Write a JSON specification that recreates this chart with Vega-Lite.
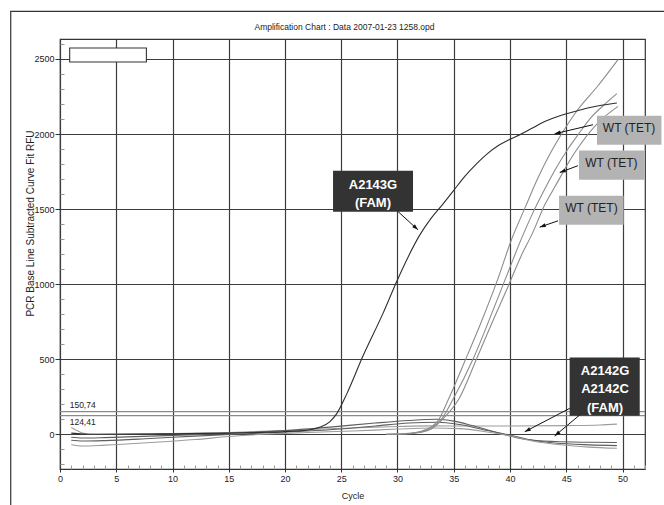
{
  "$schema": "https://vega.github.io/schema/vega-lite/v6.json",
  "width": 585,
  "height": 430,
  "autosize": {"type": "none"},
  "padding": {"left": 60, "top": 39, "right": 19, "bottom": 36},
  "background": "white",
  "config": {
    "font": "Liberation Sans",
    "view": {"stroke": "#333333", "strokeWidth": 1.2}
  },
  "title": {
    "text": "Amplification Chart : Data 2007-01-23 1258.opd",
    "font": "Liberation Sans",
    "fontSize": 8.5,
    "fontWeight": "normal",
    "color": "#222222",
    "anchor": "middle",
    "frame": "group",
    "baseline": "middle",
    "offset": 0,
    "dx": -8,
    "dy": 25
  },
  "datasets": {
    "curves": [
      {"series": "B1", "cycle": 1, "rfu": 45}, {"series": "B1", "cycle": 1.5, "rfu": 25}, {"series": "B1", "cycle": 2, "rfu": 8}, {"series": "B1", "cycle": 3, "rfu": 0}, {"series": "B1", "cycle": 5, "rfu": 2}, {"series": "B1", "cycle": 10, "rfu": 5}, {"series": "B1", "cycle": 15, "rfu": 12}, {"series": "B1", "cycle": 20, "rfu": 25}, {"series": "B1", "cycle": 25, "rfu": 40}, {"series": "B1", "cycle": 30, "rfu": 52}, {"series": "B1", "cycle": 33, "rfu": 56}, {"series": "B1", "cycle": 36, "rfu": 55}, {"series": "B1", "cycle": 40, "rfu": 55}, {"series": "B1", "cycle": 45, "rfu": 58}, {"series": "B1", "cycle": 48, "rfu": 62}, {"series": "B1", "cycle": 49.5, "rfu": 68},
      {"series": "B2", "cycle": 1, "rfu": -20}, {"series": "B2", "cycle": 2, "rfu": -25}, {"series": "B2", "cycle": 4, "rfu": -22}, {"series": "B2", "cycle": 8, "rfu": -12}, {"series": "B2", "cycle": 12, "rfu": -2}, {"series": "B2", "cycle": 16, "rfu": 10}, {"series": "B2", "cycle": 20, "rfu": 25}, {"series": "B2", "cycle": 24, "rfu": 48}, {"series": "B2", "cycle": 28, "rfu": 75}, {"series": "B2", "cycle": 31, "rfu": 92}, {"series": "B2", "cycle": 33.5, "rfu": 100}, {"series": "B2", "cycle": 35, "rfu": 88}, {"series": "B2", "cycle": 36.8, "rfu": 55}, {"series": "B2", "cycle": 39.2, "rfu": 5}, {"series": "B2", "cycle": 41.5, "rfu": -35}, {"series": "B2", "cycle": 44, "rfu": -48}, {"series": "B2", "cycle": 47, "rfu": -53}, {"series": "B2", "cycle": 49.5, "rfu": -55},
      {"series": "B3", "cycle": 1, "rfu": -40}, {"series": "B3", "cycle": 2, "rfu": -45}, {"series": "B3", "cycle": 4, "rfu": -42}, {"series": "B3", "cycle": 8, "rfu": -28}, {"series": "B3", "cycle": 12, "rfu": -12}, {"series": "B3", "cycle": 16, "rfu": 2}, {"series": "B3", "cycle": 20, "rfu": 15}, {"series": "B3", "cycle": 24, "rfu": 30}, {"series": "B3", "cycle": 28, "rfu": 55}, {"series": "B3", "cycle": 31, "rfu": 75}, {"series": "B3", "cycle": 33.5, "rfu": 80}, {"series": "B3", "cycle": 35.5, "rfu": 65}, {"series": "B3", "cycle": 38, "rfu": 25}, {"series": "B3", "cycle": 40, "rfu": -5}, {"series": "B3", "cycle": 42, "rfu": -40}, {"series": "B3", "cycle": 44, "rfu": -58}, {"series": "B3", "cycle": 47, "rfu": -70}, {"series": "B3", "cycle": 49.5, "rfu": -75},
      {"series": "B4", "cycle": 1, "rfu": -70}, {"series": "B4", "cycle": 2, "rfu": -78}, {"series": "B4", "cycle": 4, "rfu": -72}, {"series": "B4", "cycle": 8, "rfu": -55}, {"series": "B4", "cycle": 12, "rfu": -35}, {"series": "B4", "cycle": 15, "rfu": -15}, {"series": "B4", "cycle": 18, "rfu": 0}, {"series": "B4", "cycle": 22, "rfu": 12}, {"series": "B4", "cycle": 26, "rfu": 22}, {"series": "B4", "cycle": 30, "rfu": 35}, {"series": "B4", "cycle": 33, "rfu": 42}, {"series": "B4", "cycle": 35.5, "rfu": 38}, {"series": "B4", "cycle": 38, "rfu": 15}, {"series": "B4", "cycle": 40, "rfu": -10}, {"series": "B4", "cycle": 42, "rfu": -45}, {"series": "B4", "cycle": 44.5, "rfu": -70}, {"series": "B4", "cycle": 47, "rfu": -85}, {"series": "B4", "cycle": 49.5, "rfu": -93},
      {"series": "WT1", "cycle": 29, "rfu": 0}, {"series": "WT1", "cycle": 30, "rfu": 2}, {"series": "WT1", "cycle": 31, "rfu": 6}, {"series": "WT1", "cycle": 32, "rfu": 18}, {"series": "WT1", "cycle": 33, "rfu": 50}, {"series": "WT1", "cycle": 33.6, "rfu": 90}, {"series": "WT1", "cycle": 34.5, "rfu": 228}, {"series": "WT1", "cycle": 36, "rfu": 490}, {"series": "WT1", "cycle": 37.4, "rfu": 740}, {"series": "WT1", "cycle": 38.9, "rfu": 1030}, {"series": "WT1", "cycle": 40.1, "rfu": 1290}, {"series": "WT1", "cycle": 41.4, "rfu": 1520}, {"series": "WT1", "cycle": 42.5, "rfu": 1710}, {"series": "WT1", "cycle": 43.5, "rfu": 1860}, {"series": "WT1", "cycle": 44.5, "rfu": 1990}, {"series": "WT1", "cycle": 46, "rfu": 2160}, {"series": "WT1", "cycle": 47.8, "rfu": 2320}, {"series": "WT1", "cycle": 49.6, "rfu": 2496},
      {"series": "WT2", "cycle": 29, "rfu": 0}, {"series": "WT2", "cycle": 30, "rfu": 2}, {"series": "WT2", "cycle": 31, "rfu": 5}, {"series": "WT2", "cycle": 32, "rfu": 15}, {"series": "WT2", "cycle": 33, "rfu": 40}, {"series": "WT2", "cycle": 34, "rfu": 110}, {"series": "WT2", "cycle": 34.9, "rfu": 228}, {"series": "WT2", "cycle": 36.8, "rfu": 515}, {"series": "WT2", "cycle": 38.6, "rfu": 847}, {"series": "WT2", "cycle": 40, "rfu": 1113}, {"series": "WT2", "cycle": 41, "rfu": 1300}, {"series": "WT2", "cycle": 42, "rfu": 1470}, {"series": "WT2", "cycle": 43, "rfu": 1620}, {"series": "WT2", "cycle": 44, "rfu": 1760}, {"series": "WT2", "cycle": 45.15, "rfu": 1900}, {"series": "WT2", "cycle": 46, "rfu": 1990}, {"series": "WT2", "cycle": 47.2, "rfu": 2110}, {"series": "WT2", "cycle": 48.3, "rfu": 2190}, {"series": "WT2", "cycle": 49.5, "rfu": 2269},
      {"series": "WT3", "cycle": 29, "rfu": 0}, {"series": "WT3", "cycle": 30, "rfu": 1}, {"series": "WT3", "cycle": 31, "rfu": 4}, {"series": "WT3", "cycle": 32, "rfu": 12}, {"series": "WT3", "cycle": 33, "rfu": 35}, {"series": "WT3", "cycle": 34, "rfu": 100}, {"series": "WT3", "cycle": 35.4, "rfu": 228}, {"series": "WT3", "cycle": 37.1, "rfu": 515}, {"series": "WT3", "cycle": 38.5, "rfu": 760}, {"series": "WT3", "cycle": 39.8, "rfu": 980}, {"series": "WT3", "cycle": 41, "rfu": 1190}, {"series": "WT3", "cycle": 42, "rfu": 1340}, {"series": "WT3", "cycle": 43.1, "rfu": 1530}, {"series": "WT3", "cycle": 44, "rfu": 1650}, {"series": "WT3", "cycle": 45.7, "rfu": 1870}, {"series": "WT3", "cycle": 47.8, "rfu": 2073}, {"series": "WT3", "cycle": 49.6, "rfu": 2184},
      {"series": "A2143G", "cycle": 1, "rfu": 8}, {"series": "A2143G", "cycle": 2, "rfu": 2}, {"series": "A2143G", "cycle": 3, "rfu": 0}, {"series": "A2143G", "cycle": 5, "rfu": 0}, {"series": "A2143G", "cycle": 8, "rfu": 2}, {"series": "A2143G", "cycle": 10, "rfu": 4}, {"series": "A2143G", "cycle": 13, "rfu": 6}, {"series": "A2143G", "cycle": 15, "rfu": 8}, {"series": "A2143G", "cycle": 18, "rfu": 13}, {"series": "A2143G", "cycle": 20, "rfu": 18}, {"series": "A2143G", "cycle": 21, "rfu": 22}, {"series": "A2143G", "cycle": 22, "rfu": 27}, {"series": "A2143G", "cycle": 23, "rfu": 45}, {"series": "A2143G", "cycle": 24, "rfu": 85}, {"series": "A2143G", "cycle": 24.6, "rfu": 138}, {"series": "A2143G", "cycle": 25.5, "rfu": 271}, {"series": "A2143G", "cycle": 26.9, "rfu": 516}, {"series": "A2143G", "cycle": 28.7, "rfu": 804}, {"series": "A2143G", "cycle": 30, "rfu": 1030}, {"series": "A2143G", "cycle": 31, "rfu": 1190}, {"series": "A2143G", "cycle": 32, "rfu": 1330}, {"series": "A2143G", "cycle": 33, "rfu": 1440}, {"series": "A2143G", "cycle": 34, "rfu": 1530}, {"series": "A2143G", "cycle": 35, "rfu": 1625}, {"series": "A2143G", "cycle": 36, "rfu": 1720}, {"series": "A2143G", "cycle": 37, "rfu": 1800}, {"series": "A2143G", "cycle": 38, "rfu": 1870}, {"series": "A2143G", "cycle": 39, "rfu": 1925}, {"series": "A2143G", "cycle": 40, "rfu": 1965}, {"series": "A2143G", "cycle": 41, "rfu": 2000}, {"series": "A2143G", "cycle": 42, "rfu": 2040}, {"series": "A2143G", "cycle": 43, "rfu": 2080}, {"series": "A2143G", "cycle": 44, "rfu": 2110}, {"series": "A2143G", "cycle": 45, "rfu": 2135}, {"series": "A2143G", "cycle": 46, "rfu": 2155}, {"series": "A2143G", "cycle": 47, "rfu": 2175}, {"series": "A2143G", "cycle": 48, "rfu": 2190}, {"series": "A2143G", "cycle": 49.5, "rfu": 2207}
    ],
    "boxes": [
      {"kind": "dark", "cycle": 24.27, "cycle2": 31.38, "rfu": 1482, "rfu2": 1755},
      {"kind": "dark", "cycle": 45.3, "cycle2": 51.53, "rfu": 123, "rfu2": 511},
      {"kind": "light", "cycle": 47.73, "cycle2": 53.46, "rfu": 1929, "rfu2": 2122},
      {"kind": "light", "cycle": 46.13, "cycle2": 51.97, "rfu": 1695, "rfu2": 1891},
      {"kind": "light", "cycle": 44.36, "cycle2": 50.1, "rfu": 1395, "rfu2": 1589}
    ],
    "boxlabels": [
      {"kind": "dark", "cycle": 27.82, "rfu": 1662, "label": "A2143G\n(FAM)"},
      {"kind": "dark", "cycle": 48.45, "rfu": 424, "label": "A2142G\nA2142C\n(FAM)"},
      {"kind": "light", "cycle": 50.58, "rfu": 2040, "label": "WT (TET)"},
      {"kind": "light", "cycle": 49.01, "rfu": 1807, "label": "WT (TET)"},
      {"kind": "light", "cycle": 47.24, "rfu": 1507, "label": "WT (TET)"}
    ],
    "arrows": [
      {"cycle2": 30.04, "rfu2": 1484, "cycle": 31.82, "rfu": 1362},
      {"cycle2": 47.38, "rfu2": 2062, "cycle": 43.97, "rfu": 2002},
      {"cycle2": 46.04, "rfu2": 1789, "cycle": 44.42, "rfu": 1744},
      {"cycle2": 44.27, "rfu2": 1422, "cycle": 42.64, "rfu": 1380},
      {"cycle2": 45.31, "rfu2": 173, "cycle": 41.31, "rfu": 17},
      {"cycle2": 46.2, "rfu2": 129, "cycle": 43.97, "rfu": -11}
    ]
  },
  "encoding": {
    "x": {
      "field": "cycle", "type": "quantitative", "title": "Cycle",
      "scale": {"domain": [0, 52], "nice": false, "zero": false},
      "axis": {
        "values": [0,1,2,3,4,5,6,7,8,9,10,11,12,13,14,15,16,17,18,19,20,21,22,23,24,25,26,27,28,29,30,31,32,33,34,35,36,37,38,39,40,41,42,43,44,45,46,47,48,49,50,51,52],
        "format": "d",
        "labelExpr": "datum.value % 5 === 0 ? datum.label : ''",
        "labelOverlap": false,
        "grid": true,
        "gridColor": "#3c3c3c",
        "gridWidth": 1.2,
        "gridOpacity": {"condition": {"test": "datum.value % 5 === 0", "value": 1}, "value": 0},
        "tickSize": {"condition": {"test": "datum.value % 5 === 0", "value": 3}, "value": -4},
        "tickColor": {"condition": {"test": "datum.value % 5 === 0", "value": "#333333"}, "value": "#999999"},
        "domain": false,
        "labelFontSize": 9,
        "labelPadding": 2,
        "labelColor": "#222222",
        "labelFlush": false,
        "titleFontSize": 9,
        "titleFontWeight": "normal",
        "titleColor": "#222222",
        "titleX": 292.5,
        "titleY": 26,
        "titleAlign": "center",
        "titleBaseline": "middle"
      }
    },
    "y": {
      "field": "rfu", "type": "quantitative", "title": "PCR Base Line Subtracted Curve Fit RFU",
      "scale": {"domain": [-231, 2633], "nice": false, "zero": false},
      "axis": {
        "values": [-200,-100,0,100,200,300,400,500,600,700,800,900,1000,1100,1200,1300,1400,1500,1600,1700,1800,1900,2000,2100,2200,2300,2400,2500,2600],
        "format": "d",
        "labelExpr": "datum.value % 500 === 0 ? datum.label : ''",
        "labelOverlap": false,
        "grid": true,
        "gridColor": "#3c3c3c",
        "gridWidth": 1.2,
        "gridOpacity": {"condition": {"test": "datum.value % 500 === 0", "value": 1}, "value": 0},
        "tickSize": {"condition": {"test": "datum.value % 500 === 0", "value": 5}, "value": -4},
        "tickColor": {"condition": {"test": "datum.value % 500 === 0", "value": "#333333"}, "value": "#999999"},
        "domain": false,
        "labelFontSize": 9,
        "labelPadding": 1,
        "labelColor": "#222222",
        "labelFlush": false,
        "titleFontSize": 10,
        "titleFontWeight": "normal",
        "titleColor": "#222222",
        "titleX": -30,
        "titleY": 184,
        "titleAngle": 270,
        "titleAlign": "center",
        "titleBaseline": "middle"
      }
    }
  },
  "layer": [
    {
      "data": {"values": [{"cycle": -4.38, "cycle2": 60, "rfu": -900, "rfu2": 2817}]},
      "mark": {"type": "rect", "fillOpacity": 0, "stroke": "#333333", "strokeWidth": 1.2, "clip": false},
      "encoding": {"x2": {"field": "cycle2"}, "y2": {"field": "rfu2"}}
    },
    {
      "data": {"values": [{"rfu": 150.74, "cycle": 0, "cycle2": 52}, {"rfu": 124.41, "cycle": 0, "cycle2": 52}]},
      "mark": {"type": "rule", "color": "#8a8a8a", "strokeWidth": 1.3},
      "encoding": {"x2": {"field": "cycle2"}}
    },
    {
      "data": {"values": [{"rfu": 150.74, "cycle": 0.86, "label": "150,74"}]},
      "mark": {"type": "text", "align": "left", "baseline": "bottom", "dy": -2, "fontSize": 8.5, "color": "#222222"},
      "encoding": {"text": {"field": "label"}}
    },
    {
      "data": {"values": [{"rfu": 124.41, "cycle": 0.86, "label": "124,41"}]},
      "mark": {"type": "text", "align": "left", "baseline": "top", "dy": 2, "fontSize": 8.5, "color": "#222222"},
      "encoding": {"text": {"field": "label"}}
    },
    {
      "data": {"name": "curves"},
      "mark": {"type": "line", "interpolate": "monotone", "strokeWidth": 1.1, "clip": true},
      "encoding": {
        "detail": {"field": "series"},
        "color": {
          "field": "series", "type": "nominal", "legend": null,
          "scale": {
            "domain": ["B1", "B2", "B3", "B4", "WT1", "WT2", "WT3", "A2143G"],
            "range": ["#9c9c9c", "#5e5e5e", "#5e5e5e", "#9c9c9c", "#8c8c8c", "#8c8c8c", "#8c8c8c", "#2e2e2e"]
          }
        }
      }
    },
    {
      "data": {"values": [{"cycle": 0.86, "cycle2": 7.68, "rfu": 2480, "rfu2": 2573}]},
      "mark": {"type": "rect", "fill": "white", "stroke": "#333333", "strokeWidth": 1.1},
      "encoding": {"x2": {"field": "cycle2"}, "y2": {"field": "rfu2"}}
    },
    {
      "data": {"name": "boxes"},
      "transform": [{"filter": "datum.kind === 'dark'"}],
      "mark": {"type": "rect", "fill": "#333333", "clip": false},
      "encoding": {"x2": {"field": "cycle2"}, "y2": {"field": "rfu2"}}
    },
    {
      "data": {"name": "boxes"},
      "transform": [{"filter": "datum.kind === 'light'"}],
      "mark": {"type": "rect", "fill": "#b3b3b3", "clip": false},
      "encoding": {"x2": {"field": "cycle2"}, "y2": {"field": "rfu2"}}
    },
    {
      "data": {"name": "boxlabels"},
      "transform": [{"filter": "datum.kind === 'dark'"}],
      "mark": {"type": "text", "align": "center", "baseline": "middle", "fontSize": 13, "fontWeight": "bold", "color": "white", "lineBreak": "\n", "lineHeight": 18.5},
      "encoding": {"text": {"field": "label"}}
    },
    {
      "data": {"name": "boxlabels"},
      "transform": [{"filter": "datum.kind === 'light'"}],
      "mark": {"type": "text", "align": "center", "baseline": "middle", "fontSize": 12, "color": "#222222"},
      "encoding": {"text": {"field": "label"}}
    },
    {
      "data": {"name": "arrows"},
      "mark": {"type": "rule", "color": "#111111", "strokeWidth": 1},
      "encoding": {"x2": {"field": "cycle2"}, "y2": {"field": "rfu2"}}
    },
    {
      "data": {"name": "arrows"},
      "transform": [{"calculate": "atan2(-(datum.rfu - datum.rfu2) * 0.15, (datum.cycle - datum.cycle2) * 11.25) * 180 / PI", "as": "ang"}],
      "mark": {"type": "point", "shape": "M0,0L-1.5,-0.5L-1.5,0.5Z", "filled": true, "color": "#111111", "size": 64, "opacity": 1},
      "encoding": {"angle": {"field": "ang", "type": "quantitative", "scale": null}}
    }
  ]
}
